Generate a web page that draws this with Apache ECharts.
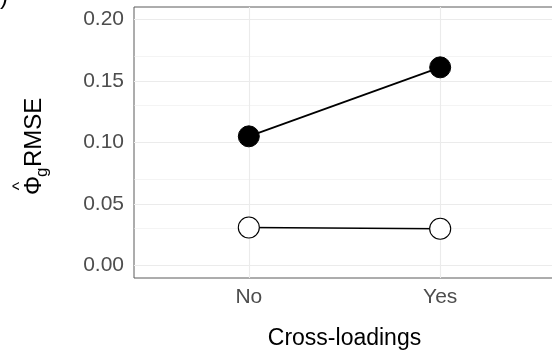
<!DOCTYPE html>
<html>
<head>
<meta charset="utf-8">
<script src="https://cdn.jsdelivr.net/npm/echarts@6/dist/echarts.min.js"></script>
<style>
html,body{margin:0;padding:0;background:#fff;}
#c{width:552px;height:358px;}
</style>
</head>
<body>
<div id="c"></div>
<script>
var categories = ['No', 'Yes'];
var filledValues = [0.105, 0.161];
var openValues = [0.031, 0.030];
var yTicks = [0, 0.05, 0.10, 0.15, 0.20];
var yMinor = [0.025, 0.075, 0.125, 0.175];
var xTicks = [0, 1];

var FONT = 'Liberation Sans, Arial, sans-serif';
var chart = echarts.init(document.getElementById('c'), null, {renderer: 'canvas'});

var gridLines = [];
yTicks.forEach(function (v) { gridLines.push({yAxis: v, lineStyle: {width: 1.1}}); });
yMinor.forEach(function (v) { gridLines.push({yAxis: v, lineStyle: {width: 0.55}}); });
xTicks.forEach(function (v) { gridLines.push({xAxis: v, lineStyle: {width: 1.1}}); });

var option = {
  animation: false,
  backgroundColor: '#ffffff',
  grid: {
    left: 134, top: 7, width: 421, bottom: 80,
    outerBoundsMode: 'none', containLabel: false,
    show: true, borderColor: '#5a5a5a', borderWidth: 1, backgroundColor: 'transparent', z: 5
  },
  xAxis: {
    type: 'value', min: -0.6, max: 1.6,
    axisLine: {show: false},
    splitLine: {show: false},
    axisTick: {show: true, customValues: xTicks, length: 5, lineStyle: {color: '#333333', width: 1}},
    axisLabel: {
      customValues: xTicks, margin: 9, color: '#4d4d4d', fontSize: 21, fontFamily: FONT,
      formatter: function (v) { return categories[Math.round(v)]; }
    },
    name: 'Cross-loadings', nameLocation: 'middle', nameGap: 49,
    nameTextStyle: {color: '#000', fontSize: 23, fontFamily: FONT}
  },
  yAxis: {
    type: 'value', min: -0.01, max: 0.21,
    axisLine: {show: false},
    splitLine: {show: false},
    axisTick: {show: true, customValues: yTicks, length: 5, lineStyle: {color: '#333333', width: 1}},
    axisLabel: {
      customValues: yTicks, margin: 10, color: '#4d4d4d', fontSize: 21, fontFamily: FONT,
      formatter: function (v) { return v.toFixed(2); }
    }
  },
  graphic: [
    {
      type: 'group', x: 34, y: 195, rotation: Math.PI / 2,
      children: [
        {type: 'text', x: 0, y: 0, style: {text: 'Φ', font: '24px ' + FONT, fill: '#000', textAlign: 'left', textVerticalAlign: 'middle'}},
        {type: 'text', x: 9, y: -14, style: {text: '^', font: '18px ' + FONT, fill: '#000', textAlign: 'center', textVerticalAlign: 'middle'}},
        {type: 'text', x: 18, y: 8, style: {text: 'g', font: '17px ' + FONT, fill: '#000', textAlign: 'left', textVerticalAlign: 'middle'}},
        {type: 'text', x: 28, y: 0, style: {text: 'RMSE', font: '24px ' + FONT, fill: '#000', textAlign: 'left', textVerticalAlign: 'middle'}}
      ]
    },
    {type: 'text', x: 0, y: -3, style: {text: ')', font: '24px ' + FONT, fill: '#000', textAlign: 'left', textVerticalAlign: 'middle'}}
  ],
  series: [
    {
      type: 'line', data: [], z: 1, silent: true,
      markLine: {
        silent: true, symbol: 'none', label: {show: false}, animation: false,
        lineStyle: {color: '#ebebeb', type: 'solid'},
        data: gridLines
      }
    },
    {
      type: 'line', z: 10,
      data: filledValues.map(function (v, i) { return [i, v]; }),
      symbol: 'circle', symbolSize: 21,
      lineStyle: {color: '#000', width: 1.7},
      itemStyle: {color: '#000', borderColor: '#000', borderWidth: 1}
    },
    {
      type: 'line', z: 10,
      data: openValues.map(function (v, i) { return [i, v]; }),
      symbol: 'circle', symbolSize: 21,
      lineStyle: {color: '#000', width: 1.7},
      itemStyle: {color: '#fff', borderColor: '#000', borderWidth: 1.1}
    }
  ]
};
chart.setOption(option);
</script>
</body>
</html>
